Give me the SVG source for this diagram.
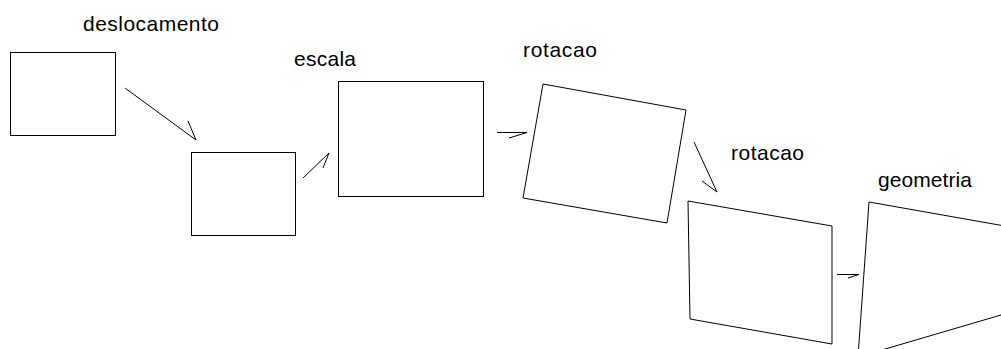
<svg xmlns="http://www.w3.org/2000/svg" width="1001" height="349" viewBox="0 0 1001 349">
  <style>
    .shape { fill: none; stroke: #000; stroke-width: 1; }
    .link { fill: none; stroke: #000; stroke-width: 1; }
    .label { font-family: "Liberation Sans", Arial, sans-serif; font-size: 21px; fill: #000; }
  </style>
  <rect width="1001" height="349" fill="#fff"/>

  <g id="deslocamento">
    <rect class="shape" x="10.5" y="52.5" width="105" height="83"/>
    <text class="label" x="83" y="31" textLength="136" lengthAdjust="spacing">deslocamento</text>
  </g>

  <g id="escala-entrada">
    <rect class="shape" x="191.5" y="152.5" width="104" height="83"/>
  </g>

  <g id="escala">
    <rect class="shape" x="338.5" y="81.5" width="145" height="115"/>
    <text class="label" x="294" y="66" textLength="62" lengthAdjust="spacing">escala</text>
  </g>

  <g id="rotacao-1">
    <polygon class="shape" points="543,84 686,110 667,223 523,198"/>
    <text class="label" x="523" y="57" textLength="74" lengthAdjust="spacing">rotacao</text>
  </g>

  <g id="rotacao-2">
    <polygon class="shape" points="688,201 832,226 832,344 690,319"/>
    <text class="label" x="731" y="160" textLength="73" lengthAdjust="spacing">rotacao</text>
  </g>

  <g id="geometria">
    <polygon class="shape" points="869,202 1050,234 1001,315 858,357"/>
    <text class="label" x="878" y="187" textLength="94" lengthAdjust="spacing">geometria</text>
  </g>

  <!-- connectors: straight shaft plus a single barb at the tip -->
  <g id="connectors">
    <path class="link" d="M125,88 L196,140 L188,121"/>
    <path class="link" d="M303,178 L329,153 L323,168"/>
    <path class="link" d="M497,132.5 L527,132.5 L509,138"/>
    <path class="link" d="M694,142 L717,192 L702,181"/>
    <path class="link" d="M837,274.5 L859,274.5 L848,278"/>
  </g>
</svg>
